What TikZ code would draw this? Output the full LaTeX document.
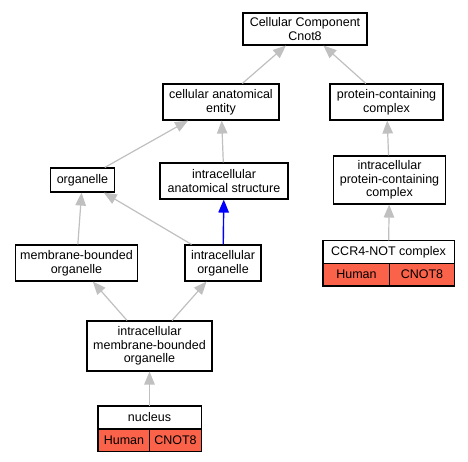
\documentclass[tikz,border=0pt]{standalone}
\usepackage{fontspec}
\setmainfont{Liberation Sans}
\usetikzlibrary{arrows.meta}
\definecolor{edgegray}{RGB}{192,192,192}
\definecolor{tomatofill}{RGB}{250,98,74}
\begin{document}
\begin{tikzpicture}[x=1pt,y=-1pt,
  box/.style={draw=black,line width=1.1pt,fill=white,align=center,inner sep=0pt,
    font=\fontsize{12.5}{13.6}\selectfont},
  cell/.style={draw=black,line width=0.9pt,align=center,inner sep=0pt,
    font=\fontsize{12.5}{13.6}\selectfont},
  edge/.style={draw=edgegray,line width=1.2pt,-{Triangle[length=13pt,width=10.5pt]}},
  bedge/.style={draw=blue,line width=1.4pt,-{Triangle[length=13pt,width=10.5pt]}}]
\fill[white] (0,0) rectangle (468,461);
\useasboundingbox (0,0) rectangle (468,461);
% nodes
\node[box,minimum width=124pt,minimum height=32pt] (cc) at (305,29) {Cellular Component\\Cnot8};
\node[box,minimum width=116pt,minimum height=36pt] (cae) at (221,102) {cellular anatomical\\entity};
\node[box,minimum width=113pt,minimum height=36pt] (pcc) at (386.5,102) {protein-containing\\complex};
\node[box,minimum width=64pt,minimum height=24pt] (org) at (82.5,180) {organelle};
\node[box,minimum width=128pt,minimum height=36pt] (ias) at (224,181) {intracellular\\anatomical structure};
\node[box,minimum width=112pt,minimum height=48pt] (ipcc) at (389.5,180) {intracellular\\protein-containing\\complex};
\node[box,minimum width=122pt,minimum height=36pt] (mbo) at (76.5,263) {membrane-bounded\\organelle};
\node[box,minimum width=76pt,minimum height=36pt] (io) at (223,263) {intracellular\\organelle};
\node[box,minimum width=125pt,minimum height=50pt] (imbo) at (149.5,346) {intracellular\\membrane-bounded\\organelle};
% CCR4-NOT table
\node[cell,fill=white,minimum width=131pt,minimum height=22.5pt] (ccr) at (388.5,252) {CCR4-NOT complex};
\node[cell,fill=tomatofill,minimum width=66pt,minimum height=22pt,anchor=north west] (ccrh) at (323,263.2) {Human};
\node[cell,fill=tomatofill,minimum width=65pt,minimum height=22pt,anchor=north west] (ccrg) at (389,263.2) {CNOT8};
% nucleus table
\node[cell,fill=white,minimum width=103pt,minimum height=22.5pt] (nuc) at (149.5,417.5) {nucleus};
\node[cell,fill=tomatofill,minimum width=51pt,minimum height=22pt,anchor=north west] (nuch) at (98,428.8) {Human};
\node[cell,fill=tomatofill,minimum width=52pt,minimum height=22pt,anchor=north west] (nucg) at (149,428.8) {CNOT8};
\draw[line width=1.1pt] (ccr.north west) rectangle (ccrg.south east);
\draw[line width=1.1pt] (nuc.north west) rectangle (nucg.south east);
% edges
\draw[edge] (cae) -- (cc);
\draw[edge] (pcc) -- (cc);
\draw[edge] (org) -- (cae);
\draw[edge] (ias) -- (cae);
\draw[edge] (ipcc) -- (pcc);
\draw[edge] (ccr) -- (ipcc);
\draw[bedge] (io) -- (ias);
\draw[edge] (io) -- (org);
\draw[edge] (mbo) -- (org);
\draw[edge] (imbo) -- (mbo);
\draw[edge] (imbo) -- (io);
\draw[edge] (nuc) -- (imbo);
\end{tikzpicture}
\end{document}
